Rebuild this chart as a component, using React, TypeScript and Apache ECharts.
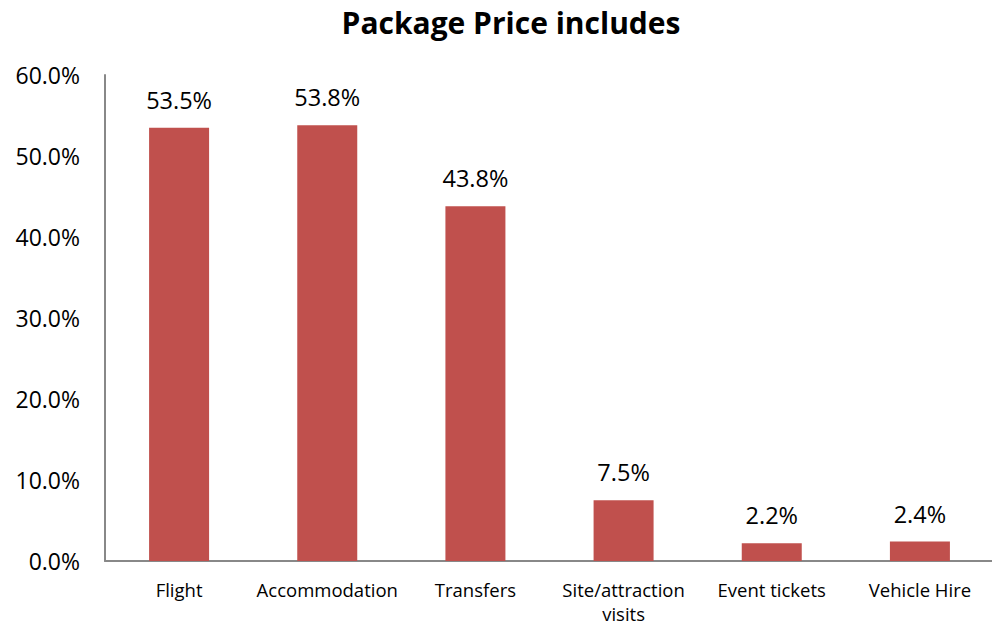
import React, { useEffect, useRef } from "react";
import * as echarts from "echarts";

const categories = ["Flight", "Accommodation", "Transfers", "Site/attraction\nvisits", "Event tickets", "Vehicle Hire"];
const values = [53.5, 53.8, 43.8, 7.5, 2.2, 2.4];
const chartTitle = "Package Price includes";

const FONT = "'Open Sans', sans-serif";

export default function App() {
  const ref = useRef<HTMLDivElement>(null);
  useEffect(() => {
    document.body.style.margin = "0";
    const chart = echarts.init(ref.current!, null, { renderer: "svg" });
    chart.setOption({
      animation: false,
      textStyle: { fontFamily: FONT },
      title: {
        text: chartTitle,
        left: 506,
        textAlign: "center",
        top: 2,
        textStyle: { fontSize: 30, fontWeight: "bold", color: "#000", fontFamily: FONT },
      },
      grid: { left: 105, top: 75, width: 889, height: 486, containLabel: false, outerBoundsMode: "none" },
      xAxis: {
        type: "category",
        data: categories,
        axisLine: { lineStyle: { color: "#888", width: 2 } },
        axisTick: { show: false },
        axisLabel: { color: "#000", fontSize: 18.5, margin: 16, lineHeight: 24, interval: 0, fontFamily: FONT },
      },
      yAxis: {
        type: "value",
        min: 0,
        max: 60,
        interval: 10,
        axisLine: { show: true, lineStyle: { color: "#888", width: 2 } },
        axisTick: { show: false },
        splitLine: { show: false },
        axisLabel: { color: "#000", fontSize: 23, margin: 25, fontFamily: FONT, formatter: (v: number) => v.toFixed(1) + "%" },
      },
      series: [
        {
          type: "bar",
          data: values,
          barWidth: 60,
          itemStyle: { color: "#C0504D" },
          label: {
            show: true,
            position: "top",
            distance: 16,
            fontSize: 23.5,
            color: "#000",
            fontFamily: FONT,
            formatter: (p: any) => p.value.toFixed(1) + "%",
          },
        },
      ],
    });
    return () => chart.dispose();
  }, []);
  return <div ref={ref} style={{ width: 992, height: 624 }} />;
}
